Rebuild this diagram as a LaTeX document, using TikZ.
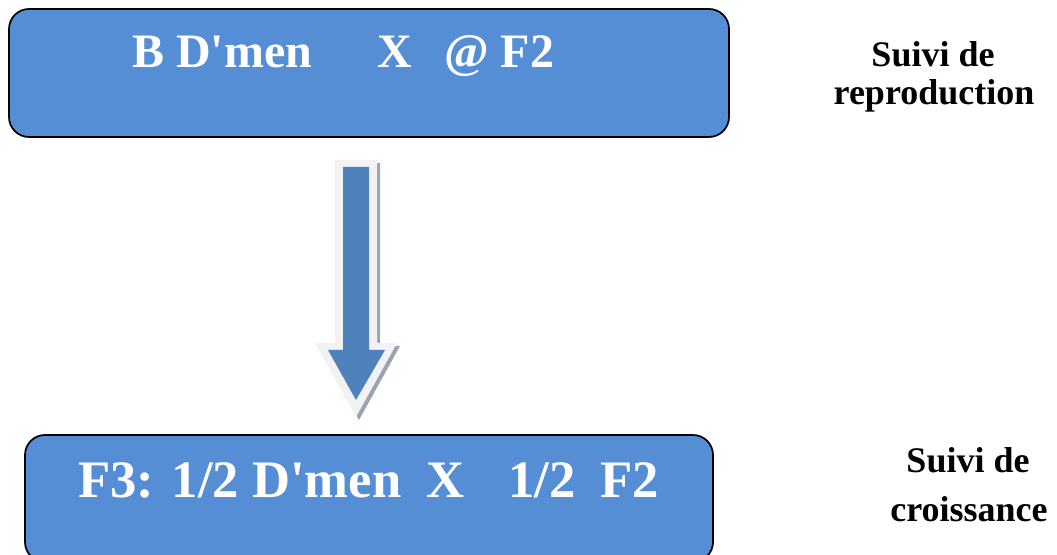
\documentclass[tikz,border=0pt]{standalone}
\usepackage{fontspec}
\setmainfont{Liberation Serif}
\definecolor{boxblue}{HTML}{558ED5}
\definecolor{arrblue}{HTML}{4F81BD}
\definecolor{arrframe}{HTML}{F2F2F2}
\definecolor{arrshadow}{HTML}{9AA3B3}
\begin{document}
\begin{tikzpicture}[x=0.75pt,y=-0.75pt,
  bluebox/.style={draw=black,line width=1.3pt,fill=boxblue,rounded corners=15pt},
  boxtxt/.style={text=white,font=\bfseries\fontsize{36}{40}\selectfont,inner sep=0pt,anchor=base west},
  boxtxtb/.style={text=white,font=\bfseries\fontsize{39.5}{44}\selectfont,inner sep=0pt,anchor=base west},
  side/.style={font=\bfseries\fontsize{27}{33}\selectfont,inner sep=0pt,anchor=base}]
\useasboundingbox (0,0) rectangle (1057,555);
\begin{scope}
\clip (0,0) rectangle (1057,555);
% top box
\draw[bluebox] (9,9) rectangle (729,137);
\node[boxtxt] (t1) at (132,68) {B D\textquotesingle men};
\node[boxtxt] (t2) at (377,68) {X};
\node[boxtxt] (t3) at (444,68) {@ F2};
% bottom box
\draw[bluebox] (25,435) rectangle (713,562);
\node[boxtxtb] (b1) at (78,498) {F3: 1/2 D\textquotesingle men};
\node[boxtxtb] (b2) at (426,498) {X};
\node[boxtxtb] (b3) at (508,498) {1/2};
\node[boxtxtb] (b4) at (600,498) {F2};
% arrow
\fill[arrshadow] (338,163) -- (380,163) -- (380,346) -- (400,346) -- (359,420) -- (318,346) -- (338,346) -- cycle;
\fill[arrframe] (335,160) -- (377,160) -- (377,343) -- (397,343) -- (356,417) -- (315,343) -- (335,343) -- cycle;
\fill[arrblue] (343,167) -- (369,167) -- (369,350) -- (385,350) -- (356,400) -- (328,350) -- (343,350) -- cycle;
\end{scope}
% side labels
\node[side] (l1a) at (933,67) {Suivi de};
\node[side] (l1b) at (934,105) {reproduction};
\node[side] (l2a) at (968,473) {Suivi de};
\node[side] (l2b) at (969,522) {croissance};
\end{tikzpicture}
\end{document}
